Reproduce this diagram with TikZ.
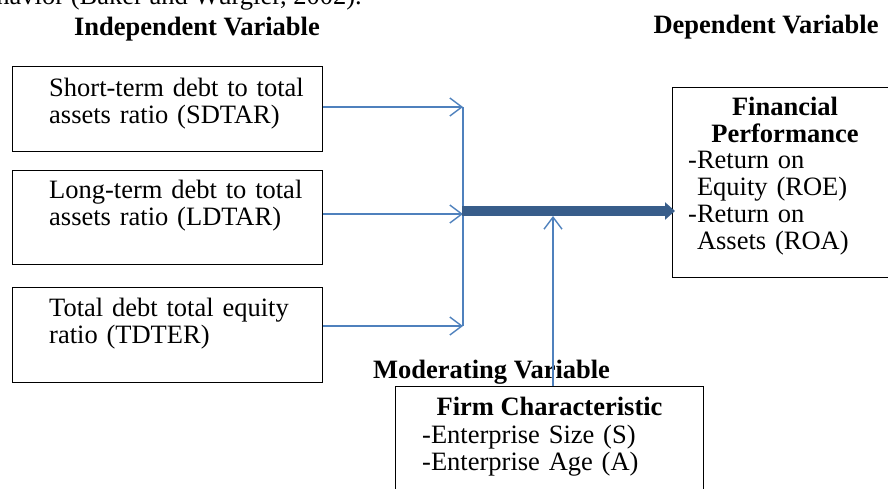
\documentclass[tikz,border=0pt]{standalone}
\usepackage{fontspec}
\setmainfont{Liberation Serif}
\usetikzlibrary{arrows.meta}
\definecolor{thinblue}{HTML}{4F81BD}
\definecolor{thickblue}{HTML}{385D8A}
\begin{document}
\begin{tikzpicture}[x=1pt,y=-1pt,
  box/.style={draw=black, line width=1.3pt, inner sep=0pt, anchor=north west},
  txt/.style={inner sep=0pt, anchor=base west, align=left, text width=300pt, font=\fontsize{26.5}{27}\selectfont},
  head/.style={inner sep=0pt, anchor=base, font=\fontsize{26.5}{27}\selectfont\bfseries},
  link/.style={draw=thinblue, line width=1.4pt},
  tip/.style={-{Straight Barb[length=12pt,width=18pt,line width=1.4pt]}},
  bigarrow/.style={draw=thickblue, line width=10pt, -{Triangle[length=10pt,width=17pt]}},
]
\useasboundingbox (0,0) rectangle (888,488);

% top cut text
\node[inner sep=0pt, anchor=base east, font=\fontsize{26.5}{27}\selectfont] (prev) at (362,4) {havior (Baker and Wurgler, 2002).};

% headings
\node[head] (indep) at (197,35) {Independent Variable};
\node[head] (dep) at (766,33) {Dependent Variable};
\node[head, anchor=base west] (moder) at (373,378) {Moderating Variable};

% boxes
\node[box, minimum width=310pt, minimum height=85pt] (box1) at (12,66) {};
\node[box, minimum width=310pt, minimum height=94pt] (box2) at (12,170) {};
\node[box, minimum width=310pt, minimum height=95pt] (box3) at (12,287) {};
\node[box, minimum width=240pt, minimum height=190pt] (boxR) at (672,87) {};
\node[box, minimum width=308pt, minimum height=130pt] (boxM) at (395,386) {};

% box texts
\node[txt] (t1) at (49,96) {Short-term debt to total\\assets ratio (SDTAR)};
\node[txt] (t2) at (49,198) {Long-term debt to total\\assets ratio (LDTAR)};
\node[txt] (t3) at (49,316) {Total debt total equity\\ratio (TDTER)};
\node[head, align=center, text width=200pt] (fp) at (785,115) {Financial\\Performance};
\node[txt, text width=200pt] (fpl) at (688,168) {-Return on\\\hphantom{-}Equity (ROE)\\-Return on\\\hphantom{-}Assets (ROA)};
\node[head] (fc) at (549.5,415) {Firm Characteristic};
\node[txt] (fcl) at (422,443) {-Enterprise Size (S)\\-Enterprise Age (A)};

% connectors
\coordinate (a1) at (463,107);
\coordinate (a2) at (463,214);
\coordinate (a3) at (463,326);
\coordinate (j) at (462,211);
\coordinate (m) at (553,216);
\draw[link,tip] (box1.east |- a1) -- (a1);
\draw[link,tip] (box2.east |- a2) -- (a2);
\draw[link,tip] (box3.east |- a3) -- (a3);
\draw[link] (a1) -- (a3);
\draw[bigarrow] (j) -- ([xshift=3pt]boxR.west |- j);
\draw[link,tip] (m |- boxM.north) -- (m);
\end{tikzpicture}
\end{document}
